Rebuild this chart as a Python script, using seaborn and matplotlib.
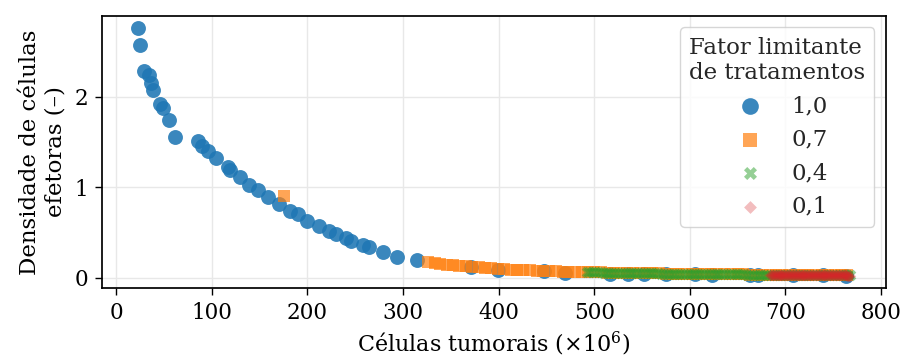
import matplotlib
matplotlib.use("Agg")
import matplotlib.pyplot as plt
import seaborn as sns
import pandas as pd

# Treatment limiting factor 1,0
x_f10 = [22.5, 25.2, 29.4, 34.6, 36.3, 38.1, 46.0, 48.5, 55.3, 61.3, 85.5, 90.0,
         95.9, 104.6, 117.0, 119.4, 129.0, 138.4, 147.8, 159.2, 170.6, 181.7,
         190.4, 199.7, 212.2, 222.5, 230.2, 239.9, 245.8, 257.8, 264.1, 278.6,
         294.2, 315.0, 371, 399, 448, 470, 517, 535, 552, 575, 606, 623, 663,
         671, 708, 739, 763]
y_f10 = [2.76, 2.58, 2.29, 2.24, 2.15, 2.08, 1.92, 1.88, 1.75, 1.56, 1.51, 1.46,
         1.40, 1.32, 1.22, 1.19, 1.11, 1.03, 0.965, 0.89, 0.81, 0.74,
         0.70, 0.63, 0.57, 0.52, 0.48, 0.44, 0.41, 0.36, 0.34, 0.28,
         0.23, 0.19, 0.114, 0.088, 0.070, 0.052, 0.044, 0.042, 0.040, 0.038,
         0.035, 0.034, 0.031, 0.030, 0.028, 0.025, 0.023]

# Treatment limiting factor 0,7
x_f07 = [175.5, 326, 333, 339, 346, 352, 359, 366, 372, 379, 386, 392, 399, 406,
         413, 419, 426, 433, 440, 446, 453, 460, 467, 473, 480, 487, 494, 500,
         507, 514, 521, 527, 534, 541, 548, 555, 561, 568, 575, 582, 588, 595,
         602, 609, 616, 622, 629, 636, 643, 650, 656, 663, 670, 677, 684, 690,
         697, 704, 711, 718, 724, 731, 738, 745, 752, 758, 765]
y_f07 = [0.90, 0.168, 0.158, 0.150, 0.143, 0.137, 0.130, 0.123, 0.117, 0.112,
         0.106, 0.101, 0.096, 0.092, 0.088, 0.085, 0.082, 0.079, 0.076, 0.074,
         0.071, 0.069, 0.067, 0.065, 0.063, 0.061, 0.060, 0.058, 0.057, 0.055,
         0.054, 0.052, 0.051, 0.050, 0.049, 0.048, 0.047, 0.046, 0.045, 0.044,
         0.043, 0.042, 0.041, 0.040, 0.039, 0.038, 0.038, 0.037, 0.036, 0.035,
         0.035, 0.034, 0.033, 0.033, 0.032, 0.031, 0.031, 0.030, 0.029, 0.029,
         0.028, 0.028, 0.027, 0.027, 0.026, 0.026, 0.025]

# Treatment limiting factor 0,4
x_f04 = [492, 495, 498, 501, 504, 507, 510, 513, 516, 519, 522, 525, 528, 531,
         534, 537, 540, 543, 546, 549, 552, 555, 558, 561, 564, 567, 570, 573,
         576, 579, 582, 585, 588, 591, 594, 597, 600, 603, 606, 609, 612, 615,
         618, 621, 624, 627, 630, 633, 636, 639, 642, 645, 648, 651, 654, 657,
         660, 663, 666, 669, 672, 675, 678, 681, 684, 687, 690, 693, 696, 699,
         702, 705, 708, 711, 714, 717, 720, 723, 726, 729, 732, 735, 738, 741,
         744, 747, 750, 753, 756, 759, 762, 765, 768]
y_f04 = [0.060, 0.060, 0.059, 0.058, 0.057, 0.057, 0.056, 0.055, 0.055, 0.054,
         0.053, 0.053, 0.052, 0.052, 0.051, 0.050, 0.050, 0.049, 0.049, 0.048,
         0.048, 0.047, 0.047, 0.047, 0.046, 0.046, 0.045, 0.045, 0.044, 0.044,
         0.044, 0.043, 0.043, 0.042, 0.042, 0.042, 0.041, 0.041, 0.040, 0.040,
         0.040, 0.039, 0.039, 0.039, 0.038, 0.038, 0.038, 0.037, 0.037, 0.037,
         0.036, 0.036, 0.036, 0.035, 0.035, 0.035, 0.034, 0.034, 0.034, 0.034,
         0.033, 0.033, 0.033, 0.033, 0.032, 0.032, 0.032, 0.031, 0.031, 0.031,
         0.031, 0.030, 0.030, 0.030, 0.029, 0.029, 0.029, 0.029, 0.028, 0.028,
         0.028, 0.028, 0.027, 0.027, 0.027, 0.027, 0.026, 0.026, 0.026, 0.026,
         0.025, 0.025, 0.025]

# Treatment limiting factor 0,1
x_f01 = [684, 685, 686, 687, 688, 689, 690, 691, 692, 693, 694, 695, 696, 697,
         698, 699, 700, 701, 702, 703, 704, 705, 706, 707, 708, 709, 710, 711,
         712, 713, 714, 715, 716, 717, 718, 719, 720, 721, 722, 723, 724, 725,
         726, 727, 728, 729, 730, 731, 732, 733, 734, 735, 736, 737, 738, 739,
         740, 741, 742, 743, 744, 745, 746, 747, 748, 749, 750, 751, 752, 753,
         754, 755, 756, 757, 758, 759, 760, 761, 762, 763, 764, 765, 766, 767,
         768]
y_f01 = [0.032, 0.032, 0.032, 0.032, 0.032, 0.032, 0.032, 0.032, 0.032,
         0.031, 0.031, 0.031, 0.031, 0.031, 0.031, 0.031, 0.031, 0.031,
         0.030, 0.030, 0.030, 0.030, 0.030, 0.030, 0.030, 0.030, 0.030,
         0.029, 0.029, 0.029, 0.029, 0.029, 0.029, 0.029, 0.029, 0.029,
         0.028, 0.028, 0.028, 0.028, 0.028, 0.028, 0.028, 0.028, 0.028,
         0.027, 0.027, 0.027, 0.027, 0.027, 0.027, 0.027, 0.027, 0.027,
         0.026, 0.026, 0.026, 0.026, 0.026, 0.026, 0.026, 0.026, 0.026,
         0.025, 0.025, 0.025, 0.025, 0.025, 0.025, 0.025, 0.025, 0.025,
         0.024, 0.024, 0.024, 0.024, 0.024, 0.024, 0.024, 0.024, 0.024,
         0.023, 0.023, 0.023, 0.023]

factor_labels = ["1,0", "0,7", "0,4", "0,1"]
x_ticks = [0, 100, 200, 300, 400, 500, 600, 700, 800]
y_ticks = [0, 1, 2]

series = [
    (x_f10, y_f10, "#1f77b4", "o", 115, 0.88),
    (x_f07, y_f07, "#ff7f0e", "s", 85, 0.70),
    (x_f04, y_f04, "#2ca02c", "X", 70, 0.50),
    (x_f01, y_f01, "#d62728", "D", 34, 0.30),
]

sns.set_theme(style="ticks")
plt.rcParams["font.family"] = ["DejaVu Serif"]
plt.rcParams["mathtext.fontset"] = "dejavuserif"

fig = plt.figure(figsize=(9.04, 3.63), dpi=100)
ax = fig.add_axes([0.113, 0.207, 0.867, 0.749])

for (xs, ys, col, mk, size, alpha), lab in zip(series, factor_labels):
    df = pd.DataFrame({"x": xs, "y": ys})
    sns.scatterplot(data=df, x="x", y="y", color=col, marker=mk, s=size,
                    alpha=alpha, linewidth=0, label=lab, ax=ax, zorder=3)

ax.set_xticks(x_ticks)
ax.set_yticks(y_ticks)
ax.grid(True, color="#e8e8e8", linewidth=1.0, zorder=0)
ax.set_axisbelow(True)
for sp in ax.spines.values():
    sp.set_visible(True)
    sp.set_color("black")
    sp.set_linewidth(1.25)
ax.tick_params(axis="both", direction="out", length=5, width=1.0,
               labelsize=15.5, colors="black", pad=5)

ax.set_xlabel("Células tumorais (×10$^6$)", fontsize=16, color="black")
ax.set_ylabel("Densidade de células\nefetoras (–)", fontsize=16.5,
              color="black", labelpad=6)

leg = ax.legend(title="Fator limitante\nde tratamentos", loc="upper right",
                fontsize=16.5, title_fontsize=16.5, frameon=True, fancybox=True,
                framealpha=0.8, edgecolor="#cccccc", markerscale=1.12)
leg.get_frame().set_linewidth(1.0)

fig.savefig("out.png", dpi=100)
